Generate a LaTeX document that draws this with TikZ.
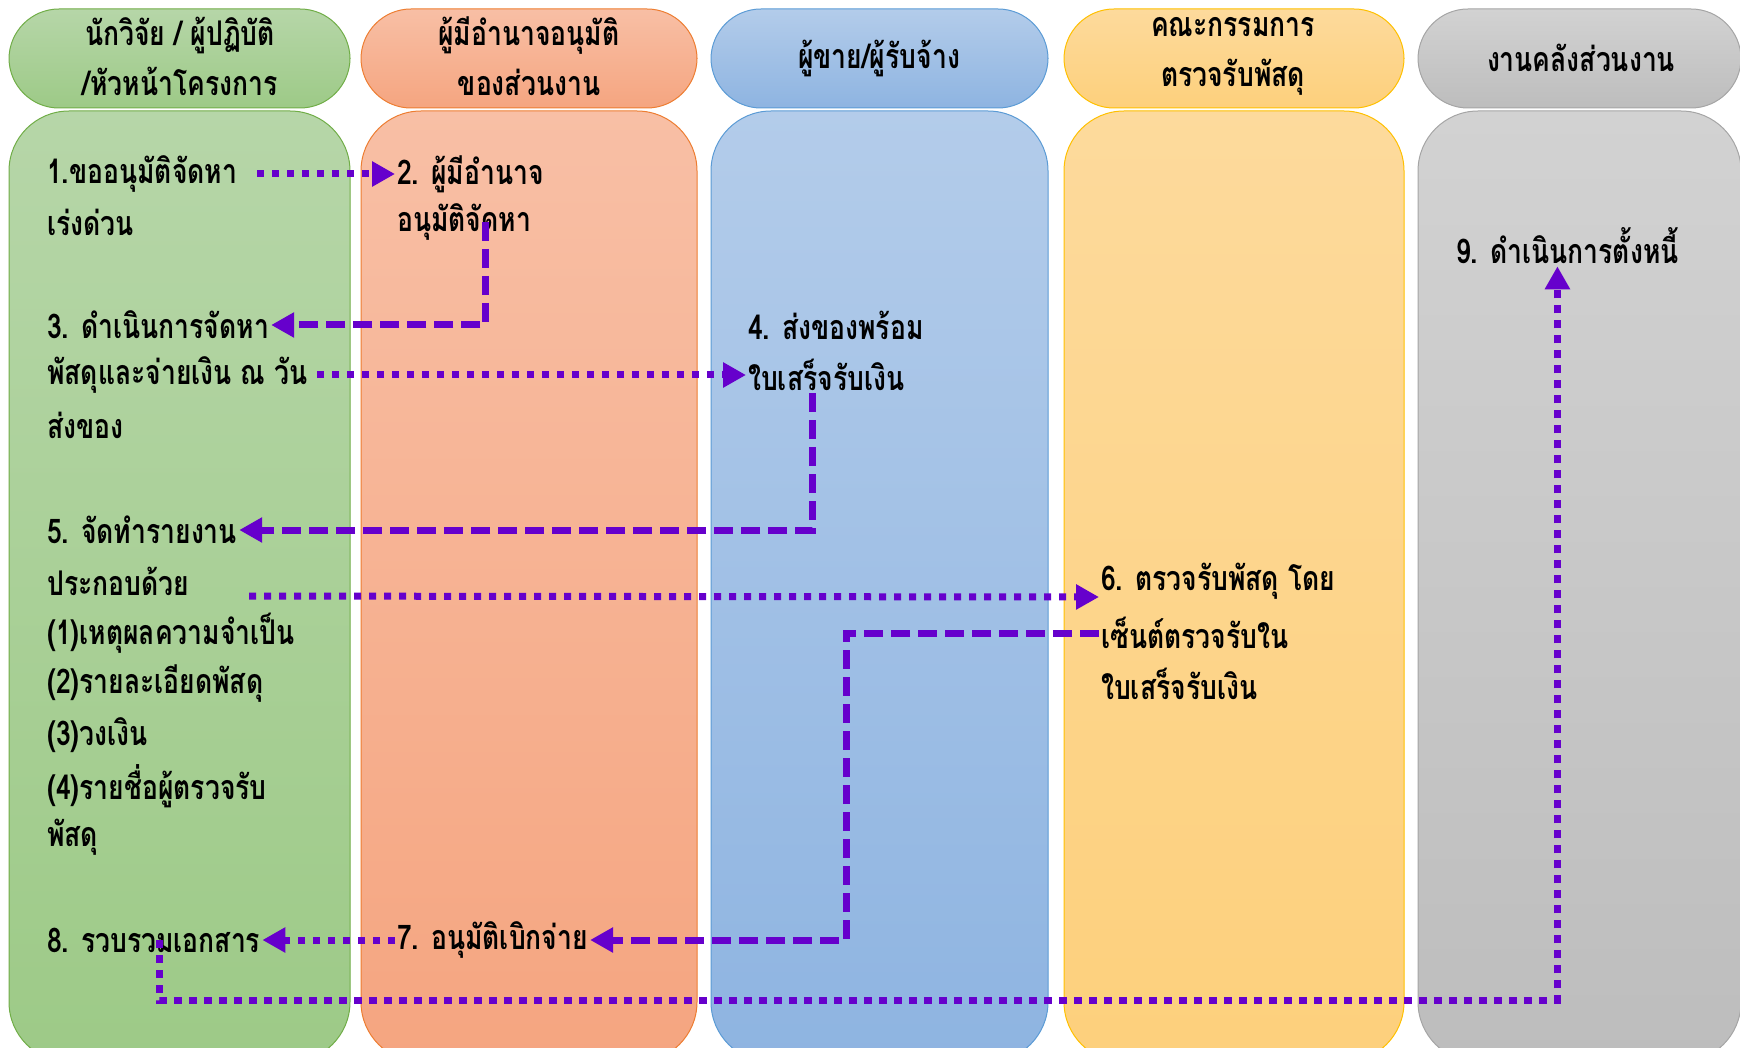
\documentclass[tikz,border=0pt]{standalone}
\usepackage{fontspec}
\newfontfamily\thaifont[Script=Thai,FakeStretch=0.78]{Loma}
\usetikzlibrary{arrows.meta}
\definecolor{flowpurple}{HTML}{6600CC}
\definecolor{greenlt}{HTML}{B6D6A8}
\definecolor{greendk}{HTML}{9DCA87}
\definecolor{greenbd}{HTML}{70AD47}
\definecolor{orangelt}{HTML}{F8BFA5}
\definecolor{orangedk}{HTML}{F5A580}
\definecolor{orangebd}{HTML}{ED7D31}
\definecolor{bluelt}{HTML}{B3CCEA}
\definecolor{bluedk}{HTML}{8EB4E1}
\definecolor{bluebd}{HTML}{5B9BD5}
\definecolor{yellowlt}{HTML}{FDDA9C}
\definecolor{yellowdk}{HTML}{FDD07C}
\definecolor{yellowbd}{HTML}{FFC000}
\definecolor{graylt}{HTML}{D2D2D2}
\definecolor{graydk}{HTML}{BDBDBD}
\definecolor{graybd}{HTML}{A5A5A5}

\begin{document}
\begin{tikzpicture}[x=1pt,y=-1pt,
  lanefont/.style={font=\thaifont\bfseries\fontsize{34}{50}\selectfont},
  headlabel/.style={lanefont,align=center,inner sep=0pt},
  steptext/.style={lanefont,anchor=west,inner sep=2pt},
  flowline/.style={flowpurple,line width=7pt,-{Triangle[length=23pt,width=24pt]}},
  dotflow/.style={flowline,dash pattern=on 7pt off 8pt},
  dashflow/.style={flowline,dash pattern=on 19pt off 8pt},
  longflow/.style={flowline,dash pattern=on 8pt off 7pt}]
  \useasboundingbox (0,0) rectangle (1740,1048);
  \clip (0,0) rectangle (1740,1048);

  % Swimlanes: header pill on top, column below.
  \foreach \xl/\xr/\cl in {9/350/green,361/697/orange,711/1048/blue,
                           1064/1404/yellow,1418/1741/gray} {
    \shade[top color=\cl lt,bottom color=\cl dk,draw=\cl bd,line width=1pt,
      rounded corners=50pt] (\xl,9) rectangle (\xr,108);
    \shade[top color=\cl lt,bottom color=\cl dk,draw=\cl bd,line width=1pt,
      rounded corners=60pt] (\xl,111) rectangle (\xr,1062);
  }

  % Lane headers.
  \node[headlabel] (h1) at (180,56) {นักวิจัย / ผู้ปฏิบัติ\\/หัวหน้าโครงการ};
  \node[headlabel] (h2) at (529,56) {ผู้มีอำนาจอนุมัติ\\ของส่วนงาน};
  \node[headlabel] (h3) at (879,58) {ผู้ขาย/ผู้รับจ้าง};
  \node[headlabel] (h4) at (1233,56) {คณะกรรมการ\\ตรวจรับพัสดุ};
  \node[headlabel] (h5) at (1581,58) {งานคลังส่วนงาน};

  % Steps.
  \node[steptext] (n1a) at (45,174) {1.ขออนุมัติจัดหา};
  \node[steptext] (n1b) at (45,222) {เร่งด่วน};
  \node[steptext] (n2a) at (395,174) {2. ผู้มีอำนาจ};
  \node[steptext] (n2b) at (395,222) {อนุมัติจัดหา};
  \node[steptext] (n3a) at (45,325) {3. ดำเนินการจัดหา};
  \node[steptext] (n3b) at (45,375) {พัสดุและจ่ายเงิน ณ วัน};
  \node[steptext] (n3c) at (45,425) {ส่งของ};
  \node[steptext] (n4a) at (746,325) {4. ส่งของพร้อม};
  \node[steptext] (n4b) at (746,375) {ใบเสร็จรับเงิน};
  \node[steptext] (n5a) at (45,530) {5. จัดทำรายงาน};
  \node[steptext] (n5b) at (45,581) {ประกอบด้วย};
  \node[steptext] (n5c) at (45,633) {(1)เหตุผลความจำเป็น};
  \node[steptext] (n5d) at (45,684) {(2)รายละเอียดพัสดุ};
  \node[steptext] (n5e) at (45,735) {(3)วงเงิน};
  \node[steptext] (n5f) at (45,786) {(4)รายชื่อผู้ตรวจรับ};
  \node[steptext] (n5g) at (45,837) {พัสดุ};
  \node[steptext] (n6a) at (1099,581) {6. ตรวจรับพัสดุ โดย};
  \node[steptext] (n6b) at (1099,633) {เซ็นต์ตรวจรับใน};
  \node[steptext] (n6c) at (1099,684) {ใบเสร็จรับเงิน};
  \node[steptext] (n7) at (395,940) {7. อนุมัติเบิกจ่าย};
  \node[steptext] (n8) at (45,940) {8. รวบรวมเอกสาร};
  \node[steptext] (n9) at (1454,246) {9. ดำเนินการตั้งหนี้};

  % Bends of the long connectors.
  \coordinate (c6) at (846,940);
  \coordinate (c8) at (159,1000);

  % Flow.
  \draw[dotflow,shorten <=18pt] (n1a.east) -- (n2a.west);
  \draw[dashflow] ([xshift=-48pt]n2b.east) |- (n3a.east);
  \draw[dotflow,shorten <=8pt] (n3b.east) -- (n4b.west);
  \draw[dashflow] ([xshift=-14pt]n4b.south) |- (n5a.east);
  \draw[dotflow,shorten <=58pt] ([yshift=-15pt]n5b.east) -- ([yshift=-16pt]n6a.west);
  \draw[dashflow] (n6b.west) -| (c6) -- (n7.east);
  \draw[dotflow] (n7.west) -- (n8.east);
  \draw[longflow] (n8.center -| c8) -- (c8) -| ([xshift=-10pt]n9.south);
\end{tikzpicture}
\end{document}
